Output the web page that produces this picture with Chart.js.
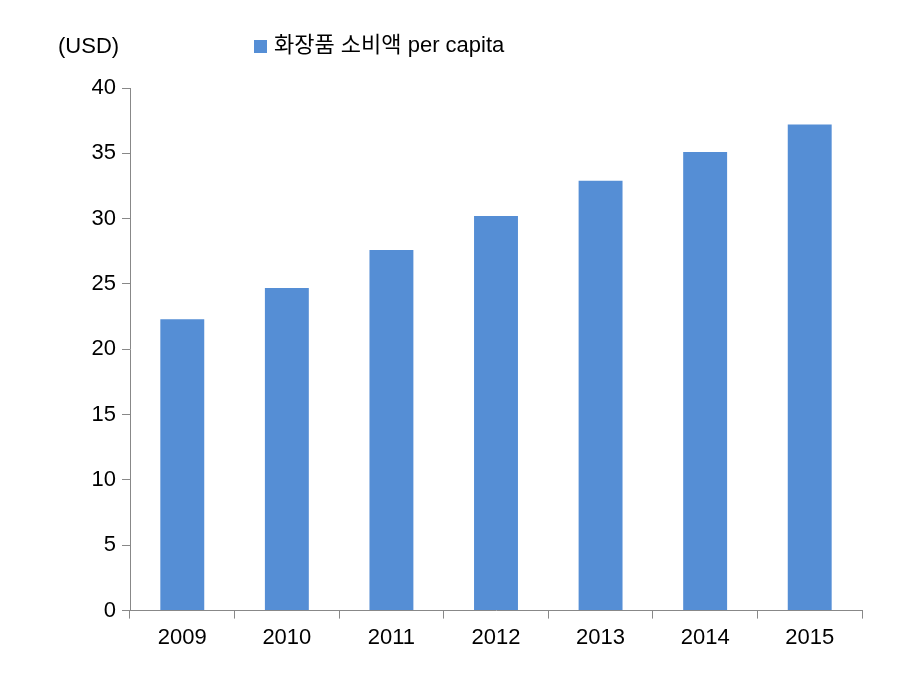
<!DOCTYPE html>
<html><head><meta charset="utf-8">
<script src="https://cdn.jsdelivr.net/npm/chart.js"></script>
<style>body{margin:0;background:#fff}#w{width:906px;height:683px}</style>
</head><body><div id="w"><canvas id="c"></canvas></div>
<script>
const categories=["2009","2010","2011","2012","2013","2014","2015"];
const values=[22.3,24.7,27.6,30.2,32.9,35.1,37.2];
const seriesName="화장품 소비액 per capita";
const unitLabel="(USD)";
const FONT="'Liberation Sans','Noto Sans CJK KR',sans-serif";
Chart.defaults.font.family=FONT;
Chart.defaults.color="#000";
const labelPlugin={id:'lbl',afterDraw(ch){const c=ch.ctx;c.save();c.font="22px "+FONT;c.fillStyle="#000";c.textBaseline="middle";
 c.fillText(unitLabel,58,47);
 c.fillStyle='#558ED5';c.fillRect(254,40,13,13);
 c.fillStyle='#000';c.fillText(seriesName,274,46);c.restore();}};
new Chart(document.getElementById('c'),{
type:'bar',
data:{labels:categories,datasets:[{label:seriesName,data:values,backgroundColor:'#558ED5',categoryPercentage:1,barPercentage:0.42}]},
options:{responsive:true,maintainAspectRatio:false,animation:false,
layout:{padding:{left:20,right:44,top:88,bottom:26}},
plugins:{legend:{display:false},tooltip:{enabled:false}},
scales:{
x:{grid:{display:true,drawOnChartArea:false,tickLength:8,color:'#888'},border:{color:'#888'},ticks:{font:{size:22},padding:6}},
y:{min:0,max:40,afterFit(s){s.width=110;},ticks:{stepSize:5,font:{size:22},padding:6},grid:{display:true,drawOnChartArea:false,tickLength:8,color:'#888'},border:{color:'#888'}}
}}, plugins:[labelPlugin]
});
</script></body></html>
